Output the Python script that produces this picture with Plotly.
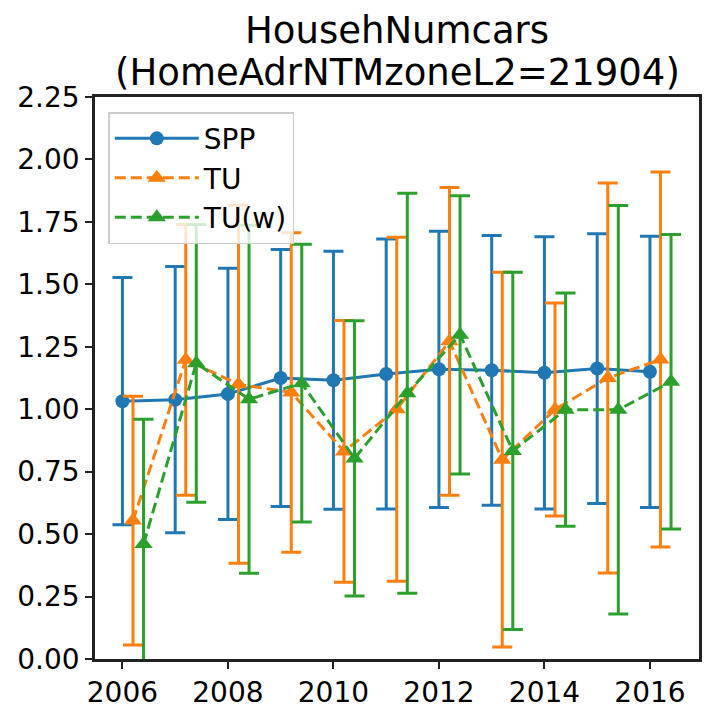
import plotly.graph_objects as go

years = [2006, 2007, 2008, 2009, 2010, 2011, 2012, 2013, 2014, 2015, 2016]
spp = [1.032, 1.038, 1.061, 1.125, 1.116, 1.141, 1.160, 1.156, 1.146, 1.163, 1.150]
spp_err = [0.495, 0.533, 0.503, 0.514, 0.516, 0.540, 0.553, 0.540, 0.545, 0.540, 0.543]
tu = [0.554, 1.198, 1.100, 1.067, 0.831, 1.000, 1.272, 0.798, 0.999, 1.125, 1.199]
tu_err = [0.498, 0.542, 0.717, 0.640, 0.524, 0.689, 0.616, 0.750, 0.426, 0.781, 0.751]
tuw = [0.460, 1.184, 1.040, 1.104, 0.803, 1.064, 1.298, 0.833, 0.998, 0.998, 1.110]
tuw_err = [0.500, 0.556, 0.697, 0.556, 0.551, 0.801, 0.557, 0.715, 0.467, 0.818, 0.590]

tu_offset = 0.2
tuw_offset = 0.4

title_line1 = "HousehNumcars"
title_line2 = "(HomeAdrNTMzoneL2=21904)"

BLUE = "#1f77b4"
ORANGE = "#ff7f0e"
GREEN = "#2ca02c"
FONT = "DejaVu Sans"

fig = go.Figure()
fig.add_trace(go.Scatter(
    x=years, y=spp, name="SPP", mode="lines+markers",
    line=dict(color=BLUE, width=3),
    marker=dict(symbol="circle", size=14, color=BLUE),
    error_y=dict(type="data", array=spp_err, visible=True, color=BLUE, thickness=3, width=10),
))
fig.add_trace(go.Scatter(
    x=[y + tu_offset for y in years], y=tu, name="TU", mode="lines+markers",
    line=dict(color=ORANGE, width=3, dash="11px,5px"),
    marker=dict(symbol="triangle-up", size=16, color=ORANGE),
    error_y=dict(type="data", array=tu_err, visible=True, color=ORANGE, thickness=3, width=10),
))
fig.add_trace(go.Scatter(
    x=[y + tuw_offset for y in years], y=tuw, name="TU(w)", mode="lines+markers",
    line=dict(color=GREEN, width=3, dash="11px,5px"),
    marker=dict(symbol="triangle-up", size=16, color=GREEN),
    error_y=dict(type="data", array=tuw_err, visible=True, color=GREEN, thickness=3, width=10),
))

axis_common = dict(
    showgrid=False, zeroline=False, showline=True, linecolor="#222", linewidth=2.5,
    mirror=True, ticks="outside", ticklen=7, tickwidth=2, tickcolor="#222",
    tickfont=dict(family=FONT, size=28, color="black"), automargin=False,
)

# page body has an 8px margin; size the figure so the plot area lands where the reference has it
fig.update_layout(
    width=708, height=709,
    margin=dict(l=87, r=17, t=89, b=58, autoexpand=False),
    paper_bgcolor="white", plot_bgcolor="white",
    font=dict(family=FONT, color="black"),
    xaxis=dict(range=[2005.48, 2016.93], tickmode="array",
               tickvals=[2006, 2008, 2010, 2012, 2014, 2016], **axis_common),
    yaxis=dict(range=[0, 2.25], tickmode="array",
               tickvals=[0, 0.25, 0.5, 0.75, 1.0, 1.25, 1.5, 1.75, 2.0, 2.25],
               tickformat=".2f", **axis_common),
    legend=dict(
        x=0.022, y=0.973, xanchor="left", yanchor="top",
        bgcolor="rgba(255,255,255,0.8)", bordercolor="#cccccc", borderwidth=1.5,
        font=dict(family=FONT, size=28, color="black"),
        itemwidth=84, tracegroupgap=0,
    ),
    showlegend=True,
    annotations=[
        dict(text=title_line1, x=0.5, xref="paper", xanchor="center",
             y=(659 - 30) / 562, yref="paper", yanchor="middle", showarrow=False,
             font=dict(family=FONT, size=37, color="black")),
        dict(text=title_line2, x=0.5, xref="paper", xanchor="center",
             y=(659 - 72) / 562, yref="paper", yanchor="middle", showarrow=False,
             font=dict(family=FONT, size=37, color="black")),
    ],
)

fig.write_html("out.html")
